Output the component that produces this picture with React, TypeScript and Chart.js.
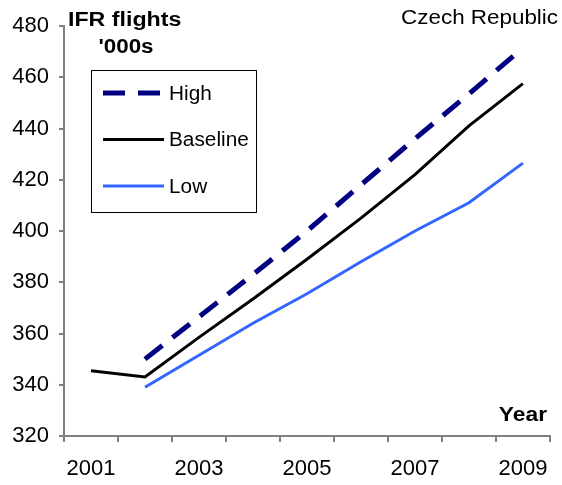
import { useEffect, useRef } from "react";
import { Chart, registerables } from "chart.js";

Chart.register(...registerables);

const years = ["2001", "2002", "2003", "2004", "2005", "2006", "2007", "2008", "2009"];
const highValues = [null, 350, 366.5, 383, 400, 418, 436, 453.5, 471.5];
const baselineValues = [345.5, 343, 358.5, 373.5, 389, 405, 422, 441, 457.5];
const lowValues = [null, 339, 351.5, 364, 375.5, 388, 400, 411, 426.5];
const yMin = 320;
const yMax = 480;
const yStep = 20;

const FONT = "'Liberation Sans', Arial, sans-serif";

const overlay = {
  id: "overlay",
  afterDraw(chart: any) {
    const ctx = chart.ctx as CanvasRenderingContext2D;
    const txt = (s: string, x: number, y: number, font: string, align: CanvasTextAlign, stretch: number) => {
      ctx.save();
      ctx.font = font;
      ctx.fillStyle = "#000";
      ctx.textBaseline = "middle";
      ctx.textAlign = align;
      ctx.translate(x, y);
      ctx.scale(stretch, 1);
      ctx.fillText(s, 0, 0);
      ctx.restore();
    };
    txt("IFR flights", 68, 20, `bold 20px ${FONT}`, "left", 1.16);
    txt("'000s", 126, 47, `bold 20px ${FONT}`, "center", 1.12);
    txt("Czech Republic", 558, 18, `20px ${FONT}`, "right", 1.12);
    txt("Year", 547, 415, `bold 20px ${FONT}`, "right", 1.14);

    ctx.save();
    ctx.fillStyle = "#fff";
    ctx.fillRect(91, 70, 165, 142);
    ctx.strokeStyle = "#000";
    ctx.lineWidth = 1;
    ctx.strokeRect(91.5, 70.5, 165, 142);
    ctx.restore();

    chart.data.datasets.forEach((ds: any, i: number) => {
      const y = 93 + i * 46.5;
      ctx.save();
      ctx.beginPath();
      ctx.setLineDash(ds.borderDash || []);
      ctx.strokeStyle = ds.borderColor;
      ctx.lineWidth = ds.borderWidth;
      ctx.moveTo(103, y);
      ctx.lineTo(164, y);
      ctx.stroke();
      ctx.restore();
      txt(ds.label, 169, y + 1, `20px ${FONT}`, "left", 1.04);
    });
  },
};

export default function App() {
  const ref = useRef<HTMLCanvasElement>(null);
  useEffect(() => {
    document.body.style.margin = "0";
    const chart = new Chart(ref.current!, {
      type: "line",
      data: {
        labels: years,
        datasets: [
          {
            label: "High",
            data: highValues,
            borderColor: "#000080",
            borderWidth: 5,
            borderDash: [22, 13],
            pointRadius: 0,
            tension: 0,
            spanGaps: false,
          },
          {
            label: "Baseline",
            data: baselineValues,
            borderColor: "#000000",
            borderWidth: 3,
            pointRadius: 0,
            tension: 0,
          },
          {
            label: "Low",
            data: lowValues,
            borderColor: "#3366FF",
            borderWidth: 3,
            pointRadius: 0,
            tension: 0,
          },
        ],
      },
      options: {
        animation: false,
        responsive: false,
        layout: { padding: { top: 26, right: 11, left: 0, bottom: 0 } },
        plugins: { legend: { display: false }, tooltip: { enabled: false } },
        scales: {
          x: {
            type: "category",
            offset: true,
            grid: {
              offset: true,
              drawOnChartArea: false,
              drawTicks: true,
              tickLength: 6,
              color: "#808080",
              lineWidth: 2,
            },
            border: { display: true, color: "#808080", width: 2 },
            ticks: {
              autoSkip: false,
              maxRotation: 0,
              color: "#000",
              font: { family: FONT, size: 22 },
              padding: 14,
              callback: (_v: any, i: number) => (i % 2 === 0 ? years[i] : ""),
            },
            afterFit: (s: any) => {
              s.height = 49;
            },
          },
          y: {
            min: yMin,
            max: yMax,
            grid: {
              drawOnChartArea: false,
              drawTicks: true,
              tickLength: 5,
              color: "#808080",
              lineWidth: 2,
            },
            border: { display: true, color: "#808080", width: 2 },
            ticks: {
              stepSize: yStep,
              color: "#000",
              font: { family: FONT, size: 22 },
              padding: 10,
            },
            afterFit: (s: any) => {
              s.width = 64;
            },
          },
        },
      },
      plugins: [overlay],
    });
    return () => chart.destroy();
  }, []);
  return (
    <div style={{ width: 562, height: 485 }}>
      <canvas ref={ref} width={562} height={485} style={{ display: "block" }} />
    </div>
  );
}
